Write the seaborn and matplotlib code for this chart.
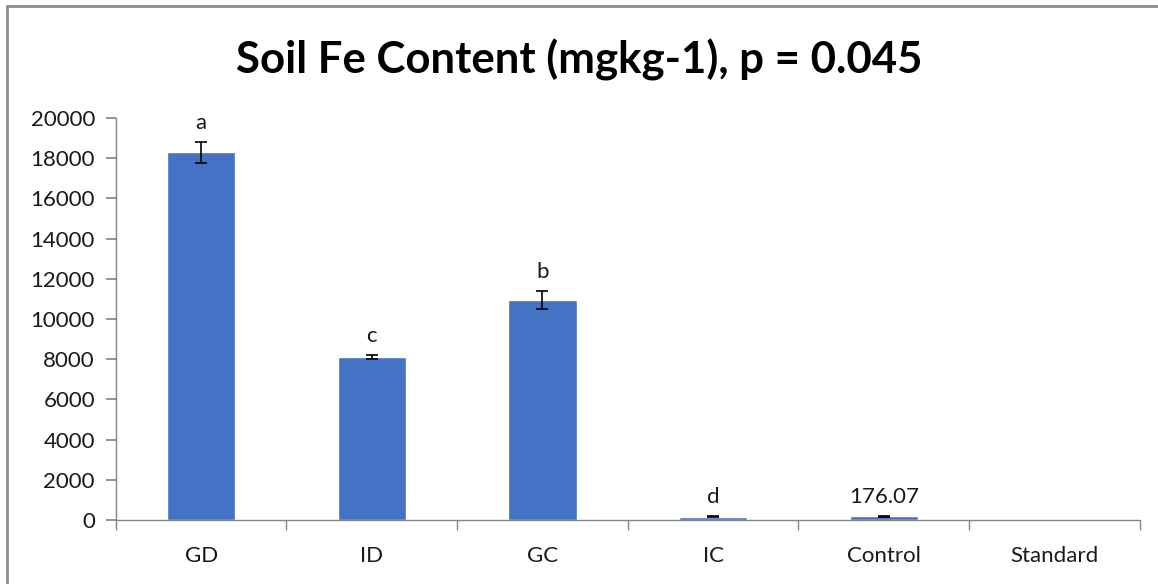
import numpy as np
import pandas as pd
import matplotlib
matplotlib.use("Agg")
import matplotlib.pyplot as plt
import seaborn as sns
from matplotlib.lines import Line2D

# data
categories = ["GD", "ID", "GC", "IC", "Control", "Standard"]
fe_mean = [18300, 8120, 10950, 170, 176.07, 0]
fe_err = [520, 110, 450, 40, 20, 0]
letters = ["a", "c", "b", "d", "176.07", ""]

sns.set_theme(style="white")
plt.rcParams["font.family"] = ["Lato", "DejaVu Sans"]

df = pd.DataFrame({"cat": categories, "fe": fe_mean})

fig = plt.figure(figsize=(11.58, 5.84), dpi=100)
ax = fig.add_axes([0.1, 0.1096, 0.8843, 0.6884])

sns.barplot(data=df, x="cat", y="fe", color="#4472C4", saturation=1,
            width=0.4, ax=ax, errorbar=None)
xs = np.arange(len(categories))
ax.errorbar(xs[:-1], fe_mean[:-1], yerr=fe_err[:-1], fmt="none",
            ecolor="black", elinewidth=1.2, capsize=4.3, capthick=1.2)

for x, v, e, t in zip(xs, fe_mean, fe_err, letters):
    if t:
        ax.text(x, v + e + 450, t, ha="center", va="bottom", fontsize=16,
                color="#1a1a1a")

ax.set_ylim(0, 20000)
ax.set_xlim(-0.5, len(categories) - 0.5)
ax.set_yticks(np.arange(0, 20001, 2000))
ax.set_xlabel("")
ax.set_ylabel("")
fig.text(0.5, 0.897, "Soil Fe Content (mgkg-1), p = 0.045", fontsize=31.5,
         fontweight="bold", ha="center", va="center", color="black")

for s in ["top", "right"]:
    ax.spines[s].set_visible(False)
for s in ["left", "bottom"]:
    ax.spines[s].set_color("#868686")
    ax.spines[s].set_linewidth(1)

ax.tick_params(axis="y", which="major", left=True, length=7, color="#868686",
               labelsize=16, pad=8, labelcolor="#1a1a1a")
ax.tick_params(axis="x", which="major", bottom=False, labelsize=16, pad=13,
               labelcolor="#1a1a1a")
ax.set_xticks(np.arange(-0.5, len(categories)), minor=True)
ax.tick_params(axis="x", which="minor", bottom=True, length=7,
               color="#868686")

# outer chart frame (top and left edges visible)
fig.add_artist(Line2D([0.006, 1.0], [0.989, 0.989], color="#8c8c8c", lw=2,
                      transform=fig.transFigure))
fig.add_artist(Line2D([0.006, 0.006], [0.0, 0.989], color="#8c8c8c", lw=2,
                      transform=fig.transFigure))

fig.savefig("out.png", dpi=100)
